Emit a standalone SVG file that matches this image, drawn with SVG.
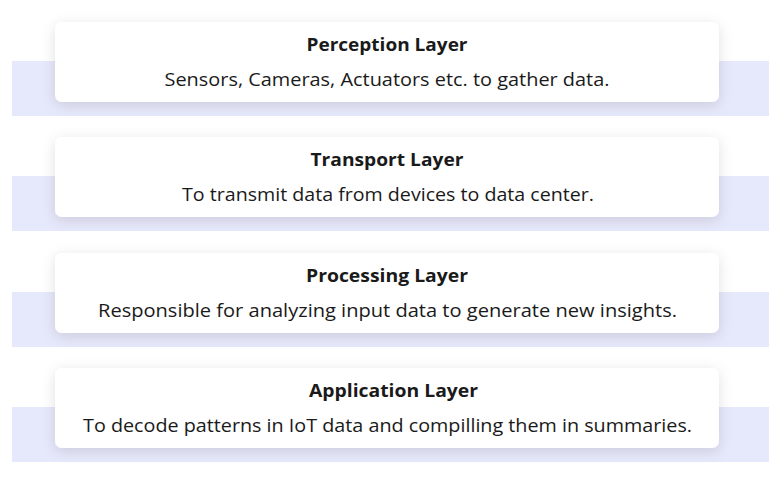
<svg xmlns="http://www.w3.org/2000/svg" width="781" height="477" viewBox="0 0 781 477">
<defs>
<filter id="sh" x="-10%" y="-40%" width="120%" height="180%"><feDropShadow dx="0" dy="3" stdDeviation="7" flood-color="#000" flood-opacity="0.12"/></filter>
<style>
.band{fill:#e6e8fb}
.card{fill:#fff;filter:url(#sh)}
.t{font-family:"Open Sans","Noto Sans","Liberation Sans",sans-serif;font-size:18px;fill:#1a1a1a;text-anchor:middle}
.b{font-weight:bold}
</style>
</defs>
<rect width="781" height="477" fill="#fff"/>
<g id="perception"><rect class="band" x="12" y="61" width="757" height="55"/><rect class="card" x="55" y="22" width="664" height="80" rx="7"/><text class="t b" x="387" y="51" textLength="161" lengthAdjust="spacingAndGlyphs">Perception Layer</text><text class="t" x="387" y="86" textLength="445" lengthAdjust="spacingAndGlyphs">Sensors, Cameras, Actuators etc. to gather data.</text></g>
<g id="transport"><rect class="band" x="12" y="176" width="757" height="55"/><rect class="card" x="55" y="137" width="664" height="80" rx="7"/><text class="t b" x="387" y="166" textLength="153" lengthAdjust="spacingAndGlyphs">Transport Layer</text><text class="t" x="388" y="201" textLength="412" lengthAdjust="spacingAndGlyphs">To transmit data from devices to data center.</text></g>
<g id="processing"><rect class="band" x="12" y="292" width="757" height="55"/><rect class="card" x="55" y="253" width="664" height="80" rx="7"/><text class="t b" x="387" y="282" textLength="162" lengthAdjust="spacingAndGlyphs">Processing Layer</text><text class="t" x="387.5" y="317" textLength="579" lengthAdjust="spacingAndGlyphs">Responsible for analyzing input data to generate new insights.</text></g>
<g id="application"><rect class="band" x="12" y="407" width="757" height="55"/><rect class="card" x="55" y="368" width="664" height="80" rx="7"/><text class="t b" x="393.5" y="397" textLength="169" lengthAdjust="spacingAndGlyphs">Application Layer</text><text class="t" x="387.5" y="432" textLength="609" lengthAdjust="spacingAndGlyphs">To decode patterns in IoT data and compilling them in summaries.</text></g>
<g id="connectors"/>
</svg>
